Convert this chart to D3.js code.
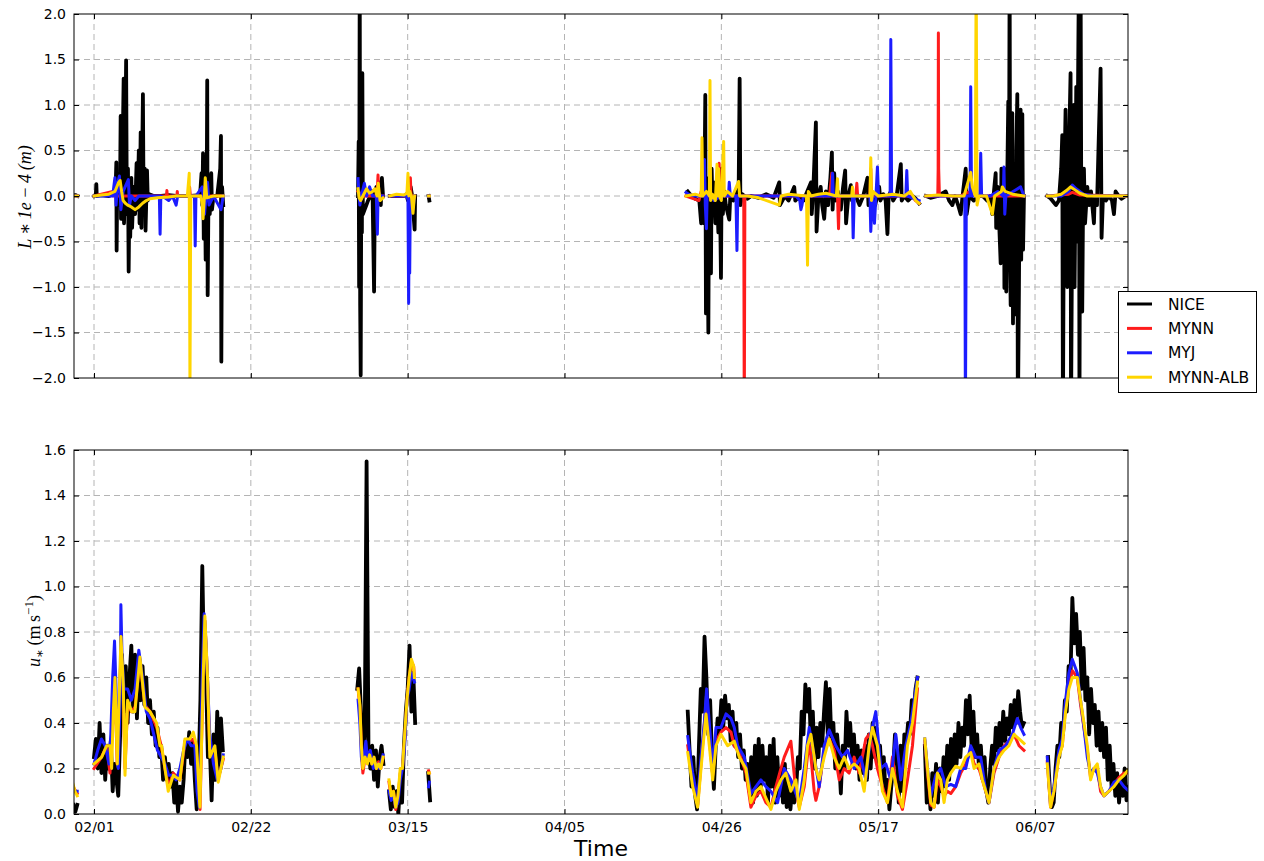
<!DOCTYPE html>
<html><head><meta charset="utf-8">
<script src="https://cdn.jsdelivr.net/npm/d3@7"></script>
<style>
body{margin:0;background:#fff;}
svg{display:block;}
</style>
</head><body>
<svg id="chart" width="1264" height="861"></svg>
<script>
// ---------------- DATA ----------------
// time is given in days after 2015-02-01 00:00 UTC
const seriesNames = ["NICE", "MYNN", "MYJ", "MYNN-ALB"];
const xTickLabels = ["02/01", "02/22", "03/15", "04/05", "04/26", "05/17", "06/07"];
const lTicks = [-2.0, -1.5, -1.0, -0.5, 0.0, 0.5, 1.0, 1.5, 2.0];
const uTicks = [0.0, 0.2, 0.4, 0.6, 0.8, 1.0, 1.2, 1.4, 1.6];

// Observed u* (NICE), 6-hourly blocks: [start day, values]
const ustarNICE = [
  [-2.75, [0.04, 0.01, 0.04]],
  [0, [0.25,0.33,0.2,0.4, 0.18,0.35,0.15,0.3, 0.2,0.32,0.1,0.22, 0.15,0.08,0.35,0.7,
       0.45,0.65,0.4,0.6, 0.74,0.45,0.7,0.42, 0.68,0.5,0.65,0.48, 0.6,0.4,0.5,0.35,
       0.45,0.3,0.38,0.25, 0.3,0.15,0.25,0.15, 0.22,0.12,0.18,0.05, 0.15,0.01,0.12,0.05,
       0.15,0.32,0.25,0.36, 0.22,0.32,0.15,0.02, 0.2,0.5,1.09,0.62, 0.6,0.25,0.3,0.06,
       0.35,0.15,0.45,0.2, 0.42,0.28]],
  [35.25, [0.55,0.64,0.45,0.2,0.35,1.55,0.3,0.2,0.3,0.15,0.28,0.12,0.25,0.3,0.22]],
  [39.5, [0.1,0.02,0.12,0.03,0.1,0.0,0.15,0.05,0.3,0.45,0.55,0.74,0.45,0.62,0.4]],
  [44.75, [0.18, 0.06]],
  [79.5, [0.45,0.28, 0.12,0.25,0.08,0.02, 0.3,0.55,0.45,0.78, 0.6,0.35,0.5,0.25,
          0.11,0.3,0.42,0.35, 0.5,0.38,0.52,0.42, 0.48,0.32,0.45,0.3, 0.4,0.25,0.35,0.2,
          0.28,0.15,0.22,0.1, 0.25,0.05,0.3,0.08, 0.33,0.1,0.3,0.15, 0.25,0.05,0.3,0.12,
          0.33,0.05,0.25,0.08, 0.2,0.05,0.22,0.03, 0.15,0.02,0.12,0.05, 0.1,0.25,0.2,0.45,
          0.35,0.57,0.45,0.55, 0.3,0.45,0.2,0.38, 0.25,0.4,0.3,0.45, 0.58,0.35,0.55,0.3,
          0.4,0.2,0.35,0.25, 0.09,0.3,0.2,0.45, 0.3,0.4,0.25,0.35, 0.2,0.3,0.15,0.28,
          0.18,0.3,0.15,0.35, 0.2,0.4,0.25,0.38, 0.2,0.3,0.15,0.25, 0.08,0.15,0.02,0.12,
          0.2,0.35,0.25,0.05, 0.3,0.1,0.35,0.3, 0.4,0.35,0.5,0.45, 0.55,0.6]],
  [111.25, [0.3,0.05,0.15, 0.02,0.18,0.08,0.22, 0.05,0.2,0.1,0.25, 0.12,0.3,0.15,0.33,
            0.2,0.35,0.22,0.4, 0.25,0.38,0.3,0.5, 0.35,0.52,0.3,0.45, 0.25,0.35,0.2,0.3,
            0.15,0.25,0.1,0.05, 0.2,0.3,0.22,0.38, 0.28,0.4,0.3,0.45, 0.32,0.42,0.35,0.48,
            0.38,0.5,0.4,0.54, 0.45,0.38,0.4]],
  [127.75, [0.25,0.1, 0.03,0.05,0.2,0.3, 0.25,0.4,0.35,0.5, 0.45,0.65,0.6,0.95,
            0.75,0.88,0.7,0.8, 0.55,0.73,0.5,0.6, 0.35,0.55,0.4,0.48, 0.3,0.45,0.28,0.4,
            0.25,0.38,0.15,0.3, 0.12,0.22,0.08,0.18, 0.05,0.15,0.08,0.2, 0.06,0.12,0.1]]
];

// Modelled u* : [day, value], null = gap
const ustarMYNN = [
  [-2.8,0.12],[-2.25,0.09], null,
  [0,0.2],[1,0.25],[1.7,0.3],[2.14,0.18],[2.5,0.4],[2.8,0.6],[3.1,0.22],[3.6,0.7],[3.9,0.55],[4.15,0.2],
  [4.5,0.48],[5.0,0.45],[5.5,0.47],[6.15,0.68],[6.8,0.48],[7.5,0.45],[8.4,0.38],[9.0,0.3],[9.5,0.2],
  [10,0.12],[10.6,0.18],[11.5,0.15],[12.2,0.32],[12.8,0.32],[13.3,0.33],[13.7,0.28],[14.2,0.02],
  [14.6,0.6],[14.85,0.85],[15.2,0.6],[15.5,0.28],[16.2,0.28],[16.6,0.15],[17.3,0.24], null,
  [35.36,0.55],[35.6,0.47],[35.8,0.3],[36.0,0.18],[36.3,0.25],[36.6,0.23],[36.9,0.27],[37.2,0.22],
  [37.5,0.24],[37.8,0.2],[38.1,0.23],[38.4,0.2],[38.7,0.25], null,
  [39.5,0.14],[39.8,0.07],[40.1,0.1],[40.4,0.02],[40.7,0.07],[41.0,0.18],[41.3,0.2],[41.6,0.33],
  [41.9,0.5],[42.2,0.6],[42.5,0.67],[42.8,0.65],[42.9,0.6], null,
  [44.8,0.19],[44.9,0.18], null,
  [79.5,0.3],[80.16,0.14],[80.83,0.04],[81.28,0.22],[81.94,0.48],[82.39,0.33],[82.84,0.17],[83.28,0.32],
  [83.95,0.36],[84.62,0.38],[85.29,0.36],[85.73,0.3],[86.4,0.27],[87.29,0.18],[87.96,0.03],[88.63,0.08],
  [89.3,0.1],[89.97,0.05],[90.64,0.03],[91.31,0.12],[91.98,0.2],[92.42,0.25],[93.31,0.32],[93.98,0.1],
  [94.43,0.03],[95.1,0.12],[95.77,0.33],[96.43,0.1],[96.66,0.06],[97.1,0.12],[97.77,0.28],[98.44,0.33],
  [99.11,0.28],[99.78,0.15],[100.45,0.2],[101.11,0.18],[101.78,0.25],[102.45,0.18],[103.34,0.33],
  [103.79,0.35],[104.24,0.3],[104.9,0.2],[105.57,0.12],[106.24,0.05],[106.91,0.25],[107.58,0.08],
  [108.25,0.02],[108.92,0.15],[109.59,0.3],[110.26,0.55], null,
  [111.24,0.32],[111.6,0.18],[112.04,0.04],[112.49,0.03],[112.93,0.15],[113.38,0.12],[113.82,0.08],
  [114.27,0.1],[114.72,0.09],[115.38,0.12],[116.05,0.18],[116.72,0.22],[117.39,0.28],[117.84,0.22],
  [118.5,0.2],[118.95,0.15],[119.4,0.1],[119.84,0.05],[120.51,0.18],[121.18,0.25],[121.85,0.3],
  [122.52,0.32],[123.19,0.35],[123.86,0.3],[124.52,0.28], null,
  [127.64,0.23],[128.08,0.03],[128.53,0.1],[129.2,0.26],[129.65,0.3],[130.09,0.47],[130.54,0.58],
  [130.99,0.63],[131.66,0.6],[132.1,0.48],[132.55,0.38],[133.0,0.28],[133.44,0.16],[133.89,0.2],
  [134.34,0.2],[134.78,0.1],[135.23,0.08],[135.9,0.1],[136.57,0.13],[137.24,0.16],[137.91,0.18],[138.6,0.18]
];

const ustarMYJ = [
  [-2.8,0.1],[-2.25,0.1], null,
  [0,0.22],[0.5,0.28],[1.0,0.33],[1.5,0.3],[2.0,0.22],[2.25,0.35],[2.5,0.6],[2.75,0.76],[3.0,0.5],
  [3.25,0.2],[3.5,0.5],[3.6,0.92],[3.75,0.7],[4.0,0.55],[4.5,0.55],[5.0,0.5],[5.5,0.55],[6.0,0.72],
  [6.5,0.6],[7.0,0.45],[7.5,0.42],[8.0,0.35],[8.5,0.28],[9.0,0.25],[9.5,0.22],[10.0,0.17],[10.5,0.17],
  [11,0.15],[11.5,0.2],[12,0.28],[12.5,0.33],[13,0.3],[13.5,0.3],[13.8,0.1],[14.1,0.03],[14.5,0.6],
  [14.75,0.88],[15.0,0.75],[15.25,0.55],[15.5,0.35],[16,0.22],[16.5,0.15],[17,0.2],[17.3,0.26], null,
  [35.36,0.5],[35.6,0.4],[35.8,0.25],[36.0,0.22],[36.4,0.32],[36.6,0.25],[37.0,0.28],[37.4,0.2],
  [37.8,0.22],[38.2,0.2],[38.7,0.26], null,
  [39.5,0.1],[39.8,0.06],[40.1,0.08],[40.4,0.03],[40.7,0.05],[41.0,0.15],[41.3,0.2],[41.6,0.3],
  [41.9,0.5],[42.2,0.55],[42.5,0.62],[42.9,0.58], null,
  [44.8,0.12],[44.9,0.14], null,
  [79.5,0.34],[80.16,0.18],[80.83,0.06],[81.28,0.25],[81.72,0.4],[82.03,0.55],[82.39,0.4],[82.84,0.2],
  [83.28,0.38],[83.95,0.38],[84.62,0.44],[85.29,0.42],[85.73,0.38],[86.18,0.3],[87.07,0.25],[87.96,0.09],
  [88.63,0.12],[89.3,0.15],[89.97,0.12],[90.64,0.1],[91.53,0.05],[92.42,0.2],[93.31,0.15],[94.43,0.05],
  [95.1,0.2],[95.77,0.38],[96.43,0.25],[97.1,0.12],[97.77,0.3],[98.44,0.37],[99.33,0.3],[100.22,0.25],
  [100.89,0.28],[101.78,0.2],[102.68,0.25],[103.34,0.15],[104.01,0.35],[104.68,0.45],[105.35,0.2],
  [106.02,0.22],[106.69,0.15],[107.36,0.35],[108.03,0.15],[108.7,0.3],[109.37,0.4],[110.26,0.6], null,
  [111.24,0.33],[111.6,0.2],[112.04,0.08],[112.71,0.17],[113.38,0.2],[114.05,0.12],[114.72,0.13],
  [115.38,0.12],[116.05,0.2],[116.72,0.2],[117.39,0.3],[118.06,0.25],[118.73,0.25],[119.4,0.1],
  [119.84,0.05],[120.51,0.2],[121.18,0.28],[122.07,0.3],[122.96,0.35],[123.63,0.42],[124.08,0.38],[124.52,0.35], null,
  [127.64,0.25],[128.08,0.04],[128.53,0.12],[129.2,0.28],[129.65,0.33],[130.09,0.5],[130.54,0.62],
  [130.99,0.68],[131.66,0.62],[132.1,0.5],[132.55,0.38],[133.0,0.25],[133.44,0.18],[133.89,0.2],
  [134.34,0.18],[134.78,0.12],[135.23,0.08],[135.9,0.1],[136.57,0.14],[137.24,0.15],[137.91,0.12],[138.6,0.1]
];

const ustarALB = [
  [-2.8,0.13],[-2.55,0.1],[-2.25,0.08], null,
  [0,0.22],[1.03,0.25],[1.69,0.3],[2.14,0.3],[2.36,0.2],[2.59,0.45],[2.81,0.6],[3.12,0.22],[3.61,0.78],
  [3.92,0.57],[4.15,0.17],[4.5,0.5],[5.04,0.45],[5.48,0.45],[6.15,0.69],[6.82,0.47],[7.49,0.45],
  [8.38,0.4],[8.83,0.3],[9.05,0.3],[9.5,0.2],[9.94,0.1],[10.61,0.17],[11.5,0.15],[12.17,0.33],
  [12.84,0.33],[13.29,0.36],[13.73,0.3],[14.18,0.03],[14.62,0.6],[14.85,0.87],[15.2,0.6],[15.51,0.25],
  [16.18,0.3],[16.63,0.14],[17.3,0.25], null,
  [35.36,0.55],[35.6,0.48],[35.8,0.3],[36.0,0.2],[36.3,0.25],[36.6,0.22],[36.9,0.26],[37.2,0.22],
  [37.5,0.25],[37.8,0.2],[38.1,0.22],[38.4,0.2],[38.7,0.25], null,
  [39.5,0.15],[39.8,0.08],[40.1,0.1],[40.4,0.03],[40.7,0.08],[41.0,0.2],[41.3,0.2],[41.6,0.35],
  [41.9,0.5],[42.2,0.6],[42.5,0.68],[42.8,0.65],[42.9,0.6], null,
  [44.8,0.18],[44.9,0.18], null,
  [79.5,0.27],[80.16,0.12],[80.83,0.03],[81.28,0.2],[81.94,0.44],[82.39,0.3],[82.84,0.15],[83.28,0.3],
  [83.95,0.35],[84.84,0.3],[85.73,0.32],[86.4,0.25],[87.29,0.2],[87.96,0.05],[88.63,0.1],[89.3,0.12],
  [89.97,0.07],[90.64,0.02],[91.31,0.1],[91.98,0.15],[92.64,0.18],[93.31,0.1],[93.98,0.15],[94.43,0.02],
  [95.1,0.15],[95.54,0.3],[95.99,0.35],[96.66,0.2],[97.1,0.15],[97.77,0.25],[98.44,0.33],[99.11,0.25],
  [99.78,0.2],[100.45,0.25],[101.11,0.2],[101.78,0.22],[102.45,0.2],[103.12,0.1],[103.79,0.3],
  [104.24,0.38],[104.9,0.3],[105.57,0.1],[106.24,0.05],[106.91,0.2],[107.58,0.1],[108.25,0.03],
  [108.92,0.3],[109.59,0.4],[110.26,0.58], null,
  [111.24,0.33],[111.6,0.2],[112.04,0.05],[112.49,0.03],[112.93,0.18],[113.38,0.15],[113.82,0.05],
  [114.27,0.15],[114.72,0.18],[115.38,0.21],[116.05,0.2],[116.72,0.25],[117.39,0.27],[117.84,0.2],
  [118.5,0.22],[118.95,0.15],[119.4,0.1],[119.84,0.05],[120.51,0.2],[121.18,0.25],[121.85,0.28],
  [122.52,0.3],[123.19,0.35],[123.86,0.33],[124.52,0.31], null,
  [127.64,0.22],[128.08,0.03],[128.53,0.1],[129.2,0.25],[129.65,0.3],[130.09,0.45],[130.54,0.55],
  [130.99,0.6],[131.66,0.6],[132.1,0.5],[132.55,0.4],[133.0,0.3],[133.44,0.15],[133.89,0.2],
  [134.34,0.22],[134.78,0.12],[135.23,0.08],[135.9,0.1],[136.57,0.12],[137.24,0.15],[137.91,0.17],[138.6,0.2]
];

// Obukhov length L*1e-4 (m): [day, value], null = gap
const lNICE = [
  [-2.8,0.0],[-2.5,0.01],[-2.2,0.0], null,
  [0.0,0.0],[0.25,0.02],[0.31,0.13],[0.37,0.0],[1.0,0.01],[2.0,0.0],[2.6,0.02],[2.9,0.1],[2.99,0.37],
  [3.03,-0.6],[3.1,0.05],[3.3,-0.1],[3.5,0.2],[3.57,0.88],[3.62,-0.25],[3.8,0.3],[3.97,1.29],[4.02,-0.3],
  [4.15,0.2],[4.3,1.49],[4.4,-0.2],[4.55,0.3],[4.64,-0.83],[4.75,0.05],[4.85,-0.45],[5.0,0.2],[5.1,-0.35],
  [5.3,0.1],[5.5,-0.2],[5.7,0.36],[5.8,-0.15],[6.0,0.5],[6.1,-0.3],[6.25,0.7],[6.35,-0.35],[6.55,1.12],
  [6.65,-0.2],[6.8,0.3],[6.9,-0.38],[7.1,0.28],[7.2,-0.05],[7.4,0.02],[8,0.0],[9,0.0],[10,0.01],[11,0.0],
  [12,0.0],[13,0.0],[14.2,0.01],[14.4,0.25],[14.5,-0.1],[14.6,0.47],[14.7,-0.47],[14.85,0.3],[14.95,-0.7],
  [15.1,0.2],[15.16,1.27],[15.22,-1.09],[15.35,0.2],[15.5,-0.2],[15.7,0.25],[15.8,-0.15],[16.0,0.0],
  [16.5,0.0],[16.9,0.3],[17.0,0.66],[17.05,-1.82],[17.15,0.1],[17.3,-0.1], null,
  [35.35,0.0],[35.44,0.6],[35.5,-1.0],[35.58,2.5],[35.64,-1.2],[35.71,-1.97],[35.8,0.5],[35.87,-0.4],
  [35.93,1.35],[36.0,-0.2],[36.24,-0.15],[36.47,-0.1],[36.69,-0.05],[37.0,0.0],[37.3,0.05],[37.36,-0.3],
  [37.5,-1.05],[37.6,0.0],[37.81,0.1],[38.0,0.0],[38.26,0.15],[38.4,-0.1],[38.55,0.2],[38.7,0.0], null,
  [39.6,0.0],[40.5,0.0],[41.5,0.0],[41.82,0.02],[42.04,-0.05],[42.4,0.1],[42.6,0.0],[42.93,-0.37],[43.0,0.0], null,
  [44.8,0.0],[44.9,-0.05], null,
  [79.5,0.05],[80.0,0.0],[80.5,-0.03],[81.05,-0.05],[81.3,-0.3],[81.5,0.05],[81.7,-0.3],[81.85,1.11],
  [81.94,-1.29],[82.05,0.1],[82.17,-0.5],[82.26,-1.5],[82.35,0.2],[82.5,-0.6],[82.61,-0.85],[82.7,0.3],
  [82.85,-0.2],[83.0,0.15],[83.2,-0.3],[83.4,0.1],[83.6,-0.4],[83.8,0.1],[83.95,-0.9],[84.05,0.3],
  [84.2,-0.2],[84.4,0.05],[84.6,-0.1],[85.06,-0.26],[85.2,0.0],[85.6,-0.05],[86.0,0.05],[86.3,-0.1],
  [86.45,1.29],[86.55,-0.1],[86.8,0.02],[87.5,-0.03],[88,0.0],[89,-0.02],[90,0.02],[91,-0.02],
  [91.75,0.15],[91.85,-0.1],[92.5,0.0],[93.0,-0.05],[93.76,0.1],[93.9,-0.05],[94.5,0.0],[95.0,-0.05],
  [96.0,0.15],[96.1,-0.2],[96.3,0.05],[96.66,0.81],[96.75,-0.39],[97.0,0.0],[97.3,0.1],[97.5,-0.1],
  [97.77,-0.25],[98.0,0.05],[98.3,-0.1],[98.6,0.2],[98.8,0.48],[98.9,-0.15],[99.11,0.25],[99.3,-0.05],
  [99.6,0.05],[100.0,-0.15],[100.3,0.1],[100.58,0.28],[100.7,-0.3],[101.0,0.0],[101.34,0.12],[101.5,-0.05],
  [102,0.0],[102.5,-0.1],[103.0,0.0],[103.57,0.2],[103.7,-0.1],[104.2,0.0],[104.6,-0.1],[105.13,0.1],
  [105.3,-0.05],[105.7,0.02],[106.0,-0.05],[106.24,-0.42],[106.4,0.0],[106.7,0.05],[107.0,-0.05],
  [107.5,0.02],[108.03,0.35],[108.15,-0.05],[108.5,0.0],[109.0,-0.05],[109.6,0.0],[110.03,-0.03],[110.48,-0.08], null,
  [111.37,0.0],[112.0,-0.02],[113.0,0.0],[114.04,0.05],[114.5,-0.05],[114.93,-0.1],[115.3,0.0],
  [115.7,-0.1],[116.05,-0.2],[116.3,0.0],[116.72,0.3],[116.85,-0.2],[117.2,0.0],[117.8,-0.05],[118.5,0.0],
  [119.0,0.0],[119.6,-0.05],[120.0,0.0],[120.29,-0.2],[120.5,0.05],[120.73,0.25],[120.8,-0.35],[121.0,0.1],
  [121.2,-0.3],[121.4,-0.74],[121.5,0.3],[121.62,-0.3],[121.84,0.3],[121.9,-1.01],[122.0,0.2],
  [122.15,-1.05],[122.3,0.3],[122.42,1.04],[122.5,-0.5],[122.6,2.5],[122.68,-0.8],[122.74,-1.2],
  [122.85,0.5],[122.96,0.91],[123.05,-1.4],[123.2,0.3],[123.4,-1.3],[123.5,0.5],[123.63,1.12],
  [123.7,-2.5],[123.85,-1.0],[123.95,0.4],[124.07,0.95],[124.15,-0.7],[124.3,0.9],[124.4,-0.59],[124.52,0.0], null,
  [127.64,0.0],[128.0,-0.02],[128.31,-0.05],[128.8,-0.1],[129.2,-0.05],[129.5,0.3],[129.65,0.67],
  [129.74,-2.5],[129.85,-0.2],[130.09,0.95],[130.2,-0.3],[130.32,-1.0],[130.5,0.3],[130.76,1.35],
  [130.82,-2.5],[131.0,0.2],[131.21,1.0],[131.3,-1.0],[131.52,1.2],[131.6,-0.5],[131.88,2.5],
  [131.95,-2.5],[132.1,2.5],[132.2,-0.3],[132.32,-1.27],[132.45,0.1],[132.55,0.3],[132.7,-0.3],
  [133.0,0.1],[133.22,-0.1],[133.5,0.05],[133.89,-0.3],[134.0,0.0],[134.3,-0.1],[134.78,1.4],
  [134.91,-0.46],[135.1,0.0],[135.5,-0.05],[135.9,0.0],[136.3,-0.05],[136.57,-0.2],[136.79,0.05],
  [137.2,0.0],[137.6,-0.03],[138.13,0.0],[138.6,0.0]
];

const lMYNN = [
  [-2.8,0.0],[-2.2,0.0], null,
  [0,0],[2.5,0.05],[2.6,0.0],[9.7,0.0],[9.76,0.06],[9.82,0.0],[11.1,0.0],[11.15,0.05],[11.2,0.0],
  [12.7,0.0],[12.8,0.1],[12.9,0.0],[17.3,0.0], null,
  [35.35,0.05],[36,0],[37.9,0.0],[38.03,0.23],[38.15,0.0],[38.7,0.0], null,
  [39.6,0],[42.2,0.0],[42.36,0.2],[42.45,0.0],[42.93,0.0], null,
  [44.8,0.0],[44.9,0.0], null,
  [79.27,0.0],[81.0,-0.05],[81.3,0.05],[81.6,0.0],[83.5,0.0],[83.7,0.36],[83.8,0.0],[85,0.0],[87.0,0.0],
  [87.07,-2.5],[87.15,0.0],[90,0.0],[98.5,0.0],[98.8,0.25],[98.9,0.0],[99.55,0.0],[99.69,-0.36],[99.8,0.0],
  [102.0,0.0],[102.14,0.14],[102.25,0.0],[103.9,0.0],[104.01,0.3],[104.1,0.0],[109.5,0.0],[110.0,-0.05],[110.48,-0.08], null,
  [111.37,0.0],[112.98,0.0],[113.03,0.3],[113.06,1.79],[113.1,0.3],[113.2,0.0],[116,0.0],[117.4,0.05],[118.5,0.0],[124.52,0.0], null,
  [127.64,0.0],[130.5,0.02],[131.0,0.04],[132.0,0.01],[138.6,0.0]
];

const lMYJ = [
  [-2.8,0.0],[-2.2,0.0], null,
  [0,0],[2.5,0.0],[2.8,0.2],[2.95,-0.1],[3.2,0.15],[3.4,0.22],[3.6,-0.15],[3.9,0.05],[4.6,0.18],
  [4.75,-0.1],[5.0,0.0],[5.5,-0.05],[6,0.0],[7,0.0],[8.75,0.0],[8.85,-0.42],[8.95,0.0],[9.5,-0.02],
  [10,-0.05],[10.5,0.0],[11.0,-0.1],[11.2,0.0],[12,0.0],[13.45,0.0],[13.55,-0.55],[13.65,0.0],
  [14.5,0.1],[14.8,-0.2],[15.2,0.15],[15.4,-0.1],[16,0],[17,-0.15],[17.3,0.0], null,
  [35.35,0.19],[35.5,0.0],[35.6,-0.1],[35.8,0.0],[36.2,0.14],[36.5,0.0],[36.9,0.1],[37.3,0.0],
  [37.8,0.0],[37.94,-0.42],[38.05,0.05],[38.4,0.0],[38.7,0.0], null,
  [39.6,0.0],[41.0,0.0],[41.9,0.0],[42.04,-0.05],[42.13,-1.18],[42.2,-0.2],[42.27,-0.85],[42.36,0.0],
  [42.5,-0.1],[42.7,-0.15],[42.93,0.0], null,
  [44.8,0.0],[44.9,0.0], null,
  [79.27,0.04],[79.6,0.02],[80.5,0.0],[81.5,0.0],[81.75,0.4],[81.85,-0.1],[82.0,-0.36],[82.1,0.0],
  [82.5,0.05],[83.0,-0.05],[84.0,0.0],[84.95,0.0],[85.06,0.15],[85.2,0.0],[85.95,0.0],[86.09,-0.6],
  [86.2,0.0],[87,0.0],[88,0.0],[90,0.0],[92,0.0],[94,0.0],[94.5,-0.05],[94.65,-0.15],[94.8,-0.1],
  [95,0.0],[96,0.0],[98,0.0],[98.8,0.0],[98.9,0.25],[99.0,0.0],[100,0.0],[101.55,0.0],[101.65,-0.46],
  [101.8,0.0],[103.9,0.0],[104.01,-0.39],[104.2,0.0],[104.5,-0.3],[104.7,0.0],[104.9,0.32],[105.05,0.0],
  [106.6,0.0],[106.69,1.72],[106.8,0.0],[108.7,0.0],[108.83,0.28],[108.95,0.0],[110.48,-0.05], null,
  [111.37,0.0],[113.0,0.0],[115.0,0.0],[116.6,0.0],[116.68,-2.5],[116.8,0.0],[117.3,0.0],[117.39,1.2],
  [117.5,0.0],[118.6,0.0],[118.73,0.47],[118.85,0.0],[120.0,0.0],[121.0,0.05],[121.75,0.0],[121.84,0.32],
  [121.95,-0.2],[122.1,0.0],[124.07,0.1],[124.52,0.0], null,
  [127.64,0.0],[129.5,0.0],[130.5,0.05],[131.0,0.12],[131.5,0.08],[132.5,0.02],[134,0.0],[138.6,0.0]
];

const lALB = [
  [-2.8,0.0],[-2.2,0.0], null,
  [0.0,0.0],[1.0,0.01],[2.0,0.02],[2.8,0.05],[3.3,0.15],[3.5,0.17],[3.7,0.05],[3.9,-0.05],[4.2,-0.08],
  [4.5,-0.1],[5.0,-0.12],[5.5,-0.15],[6.0,-0.12],[6.5,-0.08],[7.0,-0.05],[7.5,-0.03],[8.5,-0.02],
  [10,-0.01],[11,0.0],[12.5,0.0],[12.75,0.25],[12.85,-2.1],[12.95,0.0],[13.5,0.0],[14.3,0.0],[14.5,-0.1],
  [14.6,-0.25],[14.75,-0.05],[14.9,0.2],[15.1,-0.02],[16,0.0],[17.3,0.0], null,
  [35.35,0.08],[35.5,-0.02],[35.7,-0.05],[36.0,0.0],[36.5,0.08],[36.9,0.03],[37.3,0.05],[37.6,0.08],
  [37.9,0.0],[38.05,0.14],[38.3,-0.05],[38.7,-0.02], null,
  [39.6,0.0],[40.5,0.02],[41.5,0.01],[41.9,0.03],[42.04,0.25],[42.15,0.0],[42.3,0.05],[42.5,0.0],
  [42.71,-0.19],[42.85,-0.05],[42.93,0.0], null,
  [44.8,0.0],[44.9,0.0], null,
  [79.27,0.0],[80.5,0.02],[81.3,0.0],[81.41,0.64],[81.5,0.0],[82.0,0.05],[82.4,0.0],[82.48,1.27],
  [82.56,-0.05],[82.8,0.02],[83.2,-0.05],[83.42,0.35],[83.5,0.0],[83.64,0.3],[83.75,0.0],[84.0,-0.05],
  [84.31,0.6],[84.4,0.0],[84.8,0.05],[85.5,0.0],[86.31,0.16],[86.45,0.0],[87.5,0.0],[89,-0.02],
  [91.75,-0.1],[92,0.0],[93,0.02],[95.4,0.0],[95.54,-0.76],[95.65,0.05],[96,0.0],[97,0.02],[98,0.03],
  [99.4,0.0],[99.55,0.19],[99.65,0.0],[101.45,0.0],[101.56,0.1],[101.7,0.0],[103.9,0.0],[104.01,0.42],
  [104.1,-0.05],[104.3,0.05],[105,0.0],[107,0.02],[108.5,0.0],[109.3,0.05],[110.03,-0.05],[110.48,-0.08], null,
  [111.37,0.0],[113,0.01],[115,0.0],[116.5,0.0],[117.39,0.26],[117.6,0.1],[118.0,0.0],[118.12,2.5],
  [118.24,-0.1],[118.5,0.0],[119.5,0.0],[120.29,-0.2],[120.6,0.0],[121.5,0.05],[121.62,0.1],[122.0,0.05],
  [123,0.02],[124.52,0.0], null,
  [127.64,0.0],[128.5,0.0],[129.5,0.02],[130.2,0.06],[130.76,0.1],[131.3,0.07],[132,0.03],[133,0.0],[138.6,0.0]
];

// ---------------- CHART ----------------
const STEP = 0.25; // 6-hourly observation blocks
const T0 = Date.UTC(2015, 1, 1);
const toDate = d => new Date(T0 + d * 864e5);
const parseTick = d3.utcParse("%Y/%m/%d");
const tickDates = xTickLabels.map(s => parseTick("2015/" + s));

function expandBlocks(blocks) {
  const out = [];
  blocks.forEach((b, i) => {
    if (i) out.push(null);
    b[1].forEach((v, k) => out.push([b[0] + k * STEP, v]));
  });
  return out;
}

const colors = {"NICE": "#000000", "MYNN": "#ff1c1c", "MYJ": "#1c1cff", "MYNN-ALB": "#ffd500"};
const widths = {"NICE": 3.8, "MYNN": 3, "MYJ": 3, "MYNN-ALB": 3};

const svg = d3.select("#chart");
svg.append("rect").attr("width", 1264).attr("height", 861).attr("fill", "#fff");

const L = 74, R = 1128;
const x = d3.scaleUtc().domain([toDate(-2.678), toDate(138.45)]).range([L, R]);

const fmt = v => d3.format(".1f")(v).replace("-", "\u2212");

function panel(id, top, bottom, y, ticks, series, showX) {
  const g = svg.append("g");
  // grid
  g.append("g").selectAll("line.h").data(ticks.slice(1, -1)).join("line")
    .attr("x1", L).attr("x2", R).attr("y1", d => y(d)).attr("y2", d => y(d))
    .attr("stroke", "#b4b4b4").attr("stroke-width", 1).attr("stroke-dasharray", "6,4");
  g.append("g").selectAll("line.v").data(tickDates).join("line")
    .attr("x1", d => x(d)).attr("x2", d => x(d)).attr("y1", top).attr("y2", bottom)
    .attr("stroke", "#b4b4b4").attr("stroke-width", 1).attr("stroke-dasharray", "6,4");

  // clip
  svg.append("clipPath").attr("id", "clip" + id).append("rect")
    .attr("x", L).attr("y", top).attr("width", R - L).attr("height", bottom - top);
  const lg = g.append("g").attr("clip-path", `url(#clip${id})`);
  const line = d3.line().defined(p => p != null)
    .x(p => x(toDate(p[0]))).y(p => y(p[1]));
  series.forEach(([name, pts]) => {
    lg.append("path").datum(pts).attr("d", line)
      .attr("fill", "none").attr("stroke", colors[name]).attr("stroke-width", widths[name])
      .attr("stroke-linejoin", "round").attr("stroke-linecap", "square");
  });

  // frame
  g.append("rect").attr("x", L).attr("y", top).attr("width", R - L).attr("height", bottom - top)
    .attr("fill", "none").attr("stroke", "#000").attr("stroke-width", 1);

  // axes (inward ticks)
  const ax = (gen, tx, ty) => {
    const a = g.append("g").attr("transform", `translate(${tx},${ty})`).call(gen);
    a.select(".domain").remove();
    a.selectAll("text").attr("font-family", "'DejaVu Sans', sans-serif").attr("font-size", 14).attr("fill", "#000");
    a.selectAll("line").attr("stroke", "#000");
    return a;
  };
  ax(d3.axisLeft(y).tickValues(ticks).tickFormat(fmt).tickSizeInner(-5).tickSizeOuter(0).tickPadding(8), L, 0);
  ax(d3.axisRight(y).tickValues(ticks).tickFormat("").tickSizeInner(-5).tickSizeOuter(0), R, 0);
  ax(d3.axisTop(x).tickValues(tickDates).tickFormat("").tickSizeInner(-5).tickSizeOuter(0), 0, top);
  ax(d3.axisBottom(x).tickValues(tickDates)
      .tickFormat(showX ? ((d, i) => xTickLabels[i]) : "").tickSizeInner(-5).tickSizeOuter(0).tickPadding(8), 0, bottom);
  return g;
}

const yTop = d3.scaleLinear().domain([-2, 2]).range([378, 14]);
const yBot = d3.scaleLinear().domain([0, 1.6]).range([814, 450]);

panel("top", 14, 378, yTop, lTicks, [
  ["NICE", lNICE], ["MYNN", lMYNN], ["MYJ", lMYJ], ["MYNN-ALB", lALB]
], false);
panel("bot", 450, 814, yBot, uTicks, [
  ["NICE", expandBlocks(ustarNICE)], ["MYNN", ustarMYNN], ["MYJ", ustarMYJ], ["MYNN-ALB", ustarALB]
], true);

// axis titles
svg.append("text").attr("x", (L + R) / 2).attr("y", 856).attr("text-anchor", "middle")
  .attr("font-family", "'DejaVu Sans', sans-serif").attr("font-size", 22).text("Time");

const t1 = svg.append("text").attr("transform", "translate(31,197) rotate(-90)")
  .attr("text-anchor", "middle").attr("font-family", "'Liberation Serif', 'DejaVu Serif', serif")
  .attr("font-size", 18).attr("font-style", "italic");
t1.text("L\u2009\u2217\u20091e\u2009\u2212\u20094\u2009(m)");

const t2 = svg.append("text").attr("transform", "translate(40,631) rotate(-90)")
  .attr("text-anchor", "middle").attr("font-family", "'Liberation Serif', 'DejaVu Serif', serif")
  .attr("font-size", 18);
t2.append("tspan").attr("font-style", "italic").text("u");
t2.append("tspan").attr("font-size", 13).attr("dy", 4).text("\u2217");
t2.append("tspan").attr("dy", -4).text("\u2009(m\u2009s");
t2.append("tspan").attr("font-size", 13).attr("dy", -7).text("\u22121");
t2.append("tspan").attr("dy", 7).text(")");

// legend
const leg = svg.append("g");
leg.append("rect").attr("x", 1118.5).attr("y", 291.5).attr("width", 138).attr("height", 101)
  .attr("fill", "#fff").attr("stroke", "#000").attr("stroke-width", 1);
seriesNames.forEach((n, i) => {
  const yy = 304 + i * 24.4;
  leg.append("line").attr("x1", 1127).attr("x2", 1152).attr("y1", yy).attr("y2", yy)
    .attr("stroke", colors[n]).attr("stroke-width", 3);
  leg.append("text").attr("x", 1168).attr("y", yy + 5.5)
    .attr("font-family", "'DejaVu Sans', sans-serif").attr("font-size", 15.5).text(n);
});
</script>
</body></html>
